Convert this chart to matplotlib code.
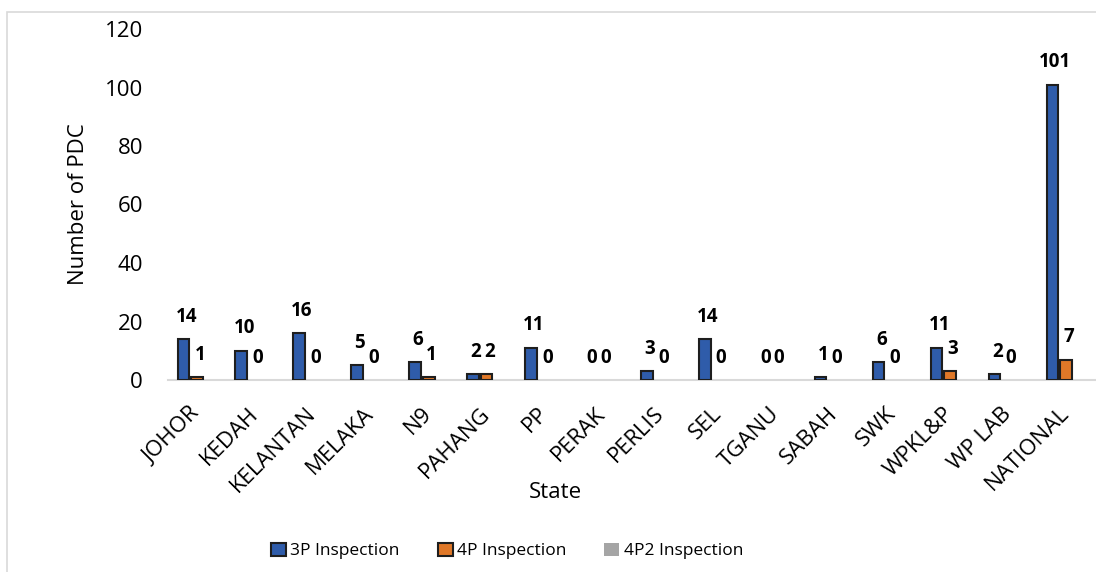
import matplotlib
matplotlib.use("Agg")
import matplotlib.pyplot as plt
from matplotlib import font_manager
from matplotlib.patches import Rectangle, Patch
import numpy as np

states = ["JOHOR", "KEDAH", "KELANTAN", "MELAKA", "N9", "PAHANG", "PP", "PERAK",
          "PERLIS", "SEL", "TGANU", "SABAH", "SWK", "WPKL&P", "WP LAB", "NATIONAL"]
insp_3p = [14, 10, 16, 5, 6, 2, 11, 0, 3, 14, 0, 1, 6, 11, 2, 101]
insp_4p = [1, 0, 0, 0, 1, 2, 0, 0, 0, 0, 0, 0, 0, 3, 0, 7]
insp_4p2 = [0] * 16
series_names = ["3P Inspection", "4P Inspection", "4P2 Inspection"]
y_ticks = [0, 20, 40, 60, 80, 100, 120]

available = {f.name for f in font_manager.fontManager.ttflist}
main_font = "Open Sans" if "Open Sans" in available else "DejaVu Sans"
plt.rcParams["font.family"] = [main_font, "DejaVu Sans"]

W, H = 1096, 572
fig = plt.figure(figsize=(W / 100, H / 100), dpi=100)
fig.patch.set_facecolor("white")

# outer chart border
fig.add_artist(Rectangle((7 / W, -0.05), 1.2, 1 - 12 / H + 0.05, transform=fig.transFigure,
                         fill=False, edgecolor="#D9D9D9", linewidth=1.2))

left, right = 168 / W, 1095 / W
bottom, top = 1 - 380 / H, 1 - 29 / H
ax = fig.add_axes([left, bottom, right - left, top - bottom])

x = np.arange(len(states))
bw = 0.2
colors = ["#2F5CAA", "#E07828", "#A5A5A5"]
edges = ["#1E1E1E", "#1E1E1E", "#A5A5A5"]
data = [insp_3p, insp_4p, insp_4p2]
offsets = [-0.235, 0.0, 0.235]
for vals, off, c, ec in zip(data, offsets, colors, edges):
    lws = [1.5 if v > 0 else 0 for v in vals]
    ax.bar(x + off, vals, width=bw, color=c, edgecolor=ec, linewidth=lws, zorder=3)

# data labels for 3P and 4P
for vals, off in zip(data[:2], offsets[:2]):
    for xi, v in zip(x, vals):
        ax.annotate(str(v), (xi + off, v), xytext=(2, 12.5), textcoords="offset points",
                    ha="center", va="baseline", fontsize=13.5, fontweight="bold", color="black")

ax.set_xlim(-0.5, len(states) - 0.5)
ax.set_ylim(0, 120)
ax.set_yticks(y_ticks)
ax.set_xticks(x)
ax.set_xticklabels(states)
for s in ["top", "right", "left"]:
    ax.spines[s].set_visible(False)
ax.spines["bottom"].set_color("#D9D9D9")
ax.spines["bottom"].set_linewidth(1.5)
ax.tick_params(axis="y", length=0, pad=18, labelsize=16)
ax.tick_params(axis="x", length=0, pad=22, labelsize=16)
for lbl in ax.get_xticklabels():
    lbl.set_rotation(45)
    lbl.set_ha("right")
    lbl.set_va("center")
    lbl.set_rotation_mode("anchor")

fig.text(79 / W, 1 - 204 / H, "Number of PDC", rotation=90, ha="center", va="center", fontsize=16)
fig.text(555 / W, 1 - 493 / H, "State", ha="center", va="center", fontsize=16)

handles = [Patch(facecolor=colors[0], edgecolor="#1E1E1E", linewidth=1.5),
           Patch(facecolor=colors[1], edgecolor="#1E1E1E", linewidth=1.5),
           Patch(facecolor=colors[2], edgecolor=colors[2], linewidth=0)]
fig.legend(handles, series_names, loc="center", bbox_to_anchor=(507 / W, 1 - 551 / H),
           ncol=3, frameon=False, prop={"size": 12.5}, handlelength=0.85, handleheight=0.85,
           handletextpad=0.25, columnspacing=2.2, borderaxespad=0)

fig.savefig("out.png", dpi=100, facecolor="white")
